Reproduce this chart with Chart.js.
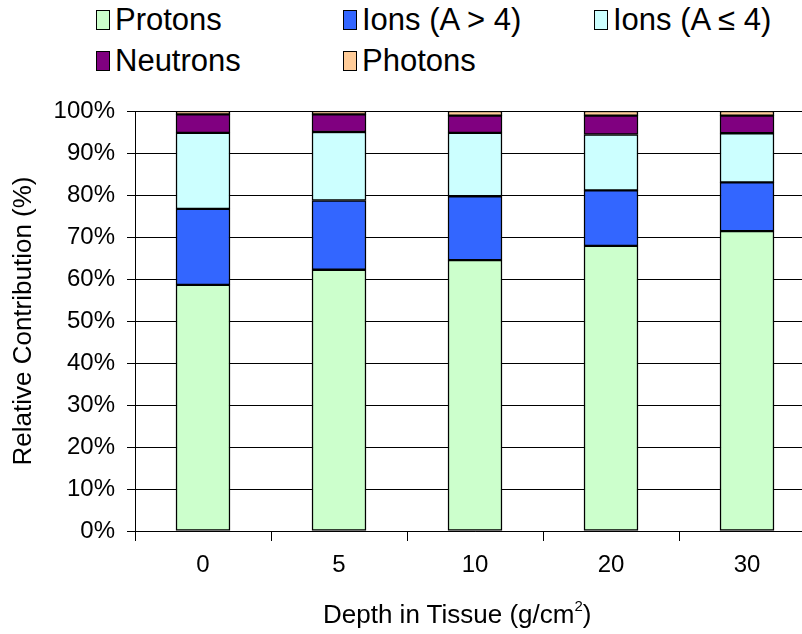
<!DOCTYPE html>
<html>
<head>
<meta charset="utf-8">
<script src="https://cdn.jsdelivr.net/npm/chart.js@4/dist/chart.umd.min.js"></script>
<style>
    html, body { margin: 0; padding: 0; background: #fff; }
    body { width: 802px; height: 634px; overflow: hidden; position: relative; font-family: "Liberation Sans", Arial, sans-serif; }
    #wrap { position: absolute; left: 0; top: 0; width: 815px; height: 634px; }
    .lg-item { position: absolute; font-size: 31px; line-height: 31px; color: #000; white-space: nowrap; }
    .lg-box { position: absolute; width: 12px; height: 18px; border: 1px solid #000; }
    #xtitle { position: absolute; top: 601px; font-size: 26px; line-height: 26px; color: #000; white-space: nowrap; }
    #xtitle sup { font-size: 15px; vertical-align: 12px; line-height: 0; }
</style>
</head>
<body>
<div id="legend"></div>
<div id="wrap"><canvas id="chart" width="815" height="634"></canvas></div>
<div id="xtitle">Depth in Tissue (g/cm<sup>2</sup>)</div>
<script>
// --- データ ---
const depths = ['0', '5', '10', '20', '30'];
const protons   = [58.6, 62.2, 64.5, 67.9, 71.4];
const ionsHeavy = [18.1, 16.5, 15.2, 13.2, 11.6]; // A > 4
const ionsLight = [18.1, 16.3, 15.1, 13.3, 11.7]; // A ≤ 4
const neutrons  = [4.4, 4.2, 4.1, 4.5, 4.2];
const photons   = [0.8, 0.8, 1.1, 1.1, 1.1];

const seriesNames  = ['Protons', 'Ions (A > 4)', 'Ions (A \u2264 4)', 'Neutrons', 'Photons'];
const seriesColors = ['#CCFFCC', '#3366FF', '#CCFFFF', '#800080', '#FFCC99'];
const seriesData   = [protons, ionsHeavy, ionsLight, neutrons, photons];

const FONT = '"Liberation Sans", Arial, sans-serif';

// legend slots (text left x, top y)
const legendSlots = [[115, 4], [362, 4], [613, 4], [115, 45], [362, 45]];

const legendEl = document.getElementById('legend');
seriesNames.forEach((name, i) => {
    const [x, y] = legendSlots[i];
    const box = document.createElement('div');
    box.className = 'lg-box';
    box.style.left = (x - 19) + 'px';
    box.style.top = (y + 6) + 'px';
    box.style.background = seriesColors[i];
    legendEl.appendChild(box);
    const txt = document.createElement('div');
    txt.className = 'lg-item';
    txt.style.left = x + 'px';
    txt.style.top = y + 'px';
    txt.textContent = name;
    legendEl.appendChild(txt);
});

// x title centred as in the reference
const xt = document.getElementById('xtitle');
xt.style.left = (457 - xt.offsetWidth / 2) + 'px';

const ctx = document.getElementById('chart').getContext('2d');
new Chart(ctx, {
    type: 'bar',
    data: {
        labels: depths,
        datasets: seriesData.map((d, i) => ({
            label: seriesNames[i],
            data: d,
            backgroundColor: seriesColors[i],
            borderColor: '#000',
            borderWidth: 1.5,
            borderSkipped: false,
            barThickness: 54
        }))
    },
    options: {
        responsive: false,
        animation: false,
        devicePixelRatio: 1,
        layout: { padding: { top: 111, left: 0, right: 0, bottom: 0 } },
        plugins: {
            legend: { display: false },
            tooltip: { enabled: false }
        },
        scales: {
            x: {
                stacked: true,
                grid: { offset: true, drawOnChartArea: false, drawTicks: true, tickLength: 10, color: '#000' },
                border: { display: true, color: '#000' },
                ticks: { color: '#000', font: { family: FONT, size: 24 }, padding: 10 },
                afterFit: scale => { scale.height = 103; }
            },
            y: {
                stacked: true,
                min: 0,
                max: 100,
                grid: { color: '#000', drawTicks: true, tickLength: 8 },
                border: { display: true, color: '#000' },
                ticks: {
                    stepSize: 10,
                    color: '#000',
                    font: { family: FONT, size: 24 },
                    padding: 12,
                    callback: v => v + '%'
                },
                title: {
                    display: true,
                    text: 'Relative Contribution (%)',
                    color: '#000',
                    font: { family: FONT, size: 26 },
                    padding: { top: 8, bottom: 0 }
                },
                afterFit: scale => { scale.width = 135; }
            }
        }
    }
});
</script>
</body>
</html>
